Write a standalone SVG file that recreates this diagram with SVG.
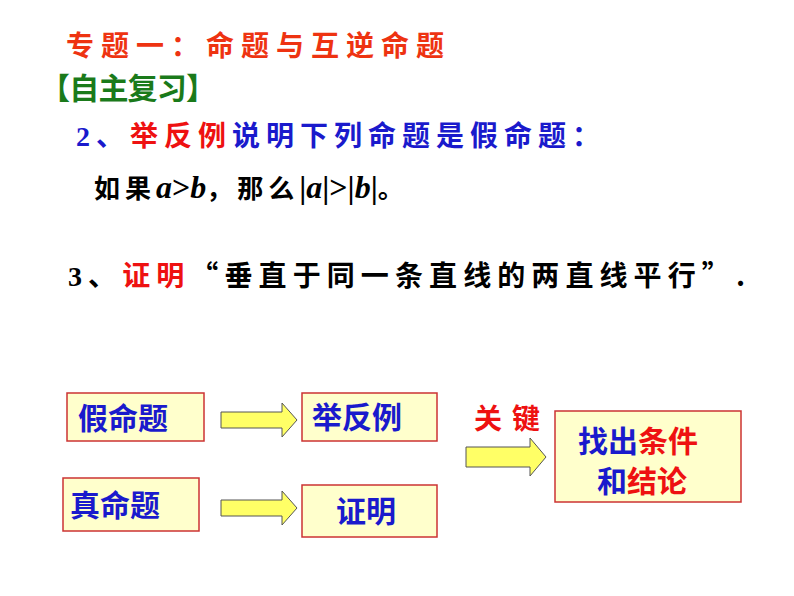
<svg xmlns="http://www.w3.org/2000/svg" width="794" height="596" viewBox="0 0 794 596">
<style>
.t{font-family:"Noto Sans CJK SC","Liberation Serif",serif;font-weight:bold}
.m{font-family:"Liberation Serif",serif;font-weight:bold}
.box{fill:#ffffcc;stroke:#cc3333;stroke-width:1.5}
.arr{fill:#ffff66;stroke:#555;stroke-width:1}
.b{fill:#1a1acc}.r{fill:#ee1111}
</style>
<rect width="794" height="596" fill="#fff"/>
<text class="t" x="66" y="56" font-size="28" fill="#ee3311" textLength="378" lengthAdjust="spacing">专题一：命题与互逆命题</text>
<text class="t" x="40" y="99" font-size="30" fill="#1a7a1a" textLength="176" lengthAdjust="spacing">【自主复习】</text>
<text class="t" x="76" y="146" font-size="28" textLength="524" lengthAdjust="spacing"><tspan class="m b">2</tspan><tspan class="b">、</tspan><tspan class="r">举反例</tspan><tspan class="b">说明下列命题是假命题：</tspan></text>
<text class="t" x="94" y="198" font-size="26" fill="#000"><tspan letter-spacing="5">如果</tspan><tspan class="m" font-style="italic" font-weight="normal" font-size="32">a</tspan><tspan class="m" font-weight="normal" font-size="32">&gt;</tspan><tspan class="m" font-style="italic" font-weight="normal" font-size="32">b</tspan><tspan letter-spacing="5">，那么</tspan><tspan class="m" font-weight="normal" font-size="32">|</tspan><tspan class="m" font-style="italic" font-weight="normal" font-size="32">a</tspan><tspan class="m" font-weight="normal" font-size="32">|&gt;|</tspan><tspan class="m" font-style="italic" font-weight="normal" font-size="32">b</tspan><tspan class="m" font-weight="normal" font-size="32">|</tspan>。</text>
<text class="t" x="68" y="286" font-size="28" fill="#000" textLength="677" lengthAdjust="spacing"><tspan class="m">3</tspan>、<tspan class="r">证明</tspan>“垂直于同一条直线的两直线平行”.</text>
<g id="connectors">
<path class="arr" d="M221,412 H282 V403 L297,420 L282,437 V428 H221 Z"/>
<path class="arr" d="M221,500 H282 V491 L297,508 L282,525 V516 H221 Z"/>
<path class="arr" d="M466,447 H530 V438 L546,457 L530,476 V467 H466 Z"/>
<text class="t r" x="474" y="429" font-size="28" textLength="66" lengthAdjust="spacing">关键</text>
</g>
<g id="n1"><rect class="box" x="67" y="393" width="137" height="48"/><text class="t b" x="78" y="429" font-size="30">假命题</text></g>
<g id="n2"><rect class="box" x="302" y="393" width="135" height="48"/><text class="t b" x="312" y="428" font-size="30">举反例</text></g>
<g id="n3"><rect class="box" x="63" y="478" width="136" height="53"/><text class="t b" x="70" y="516" font-size="30">真命题</text></g>
<g id="n4"><rect class="box" x="302" y="485" width="135" height="52"/><text class="t b" x="336" y="522" font-size="30">证明</text></g>
<g id="n5"><rect class="box" x="555" y="411" width="186" height="91"/><text class="t" x="578" y="452" font-size="30"><tspan class="b">找出</tspan><tspan class="r">条件</tspan></text><text class="t" x="597" y="492" font-size="30"><tspan class="b">和</tspan><tspan class="r">结论</tspan></text></g>
</svg>
